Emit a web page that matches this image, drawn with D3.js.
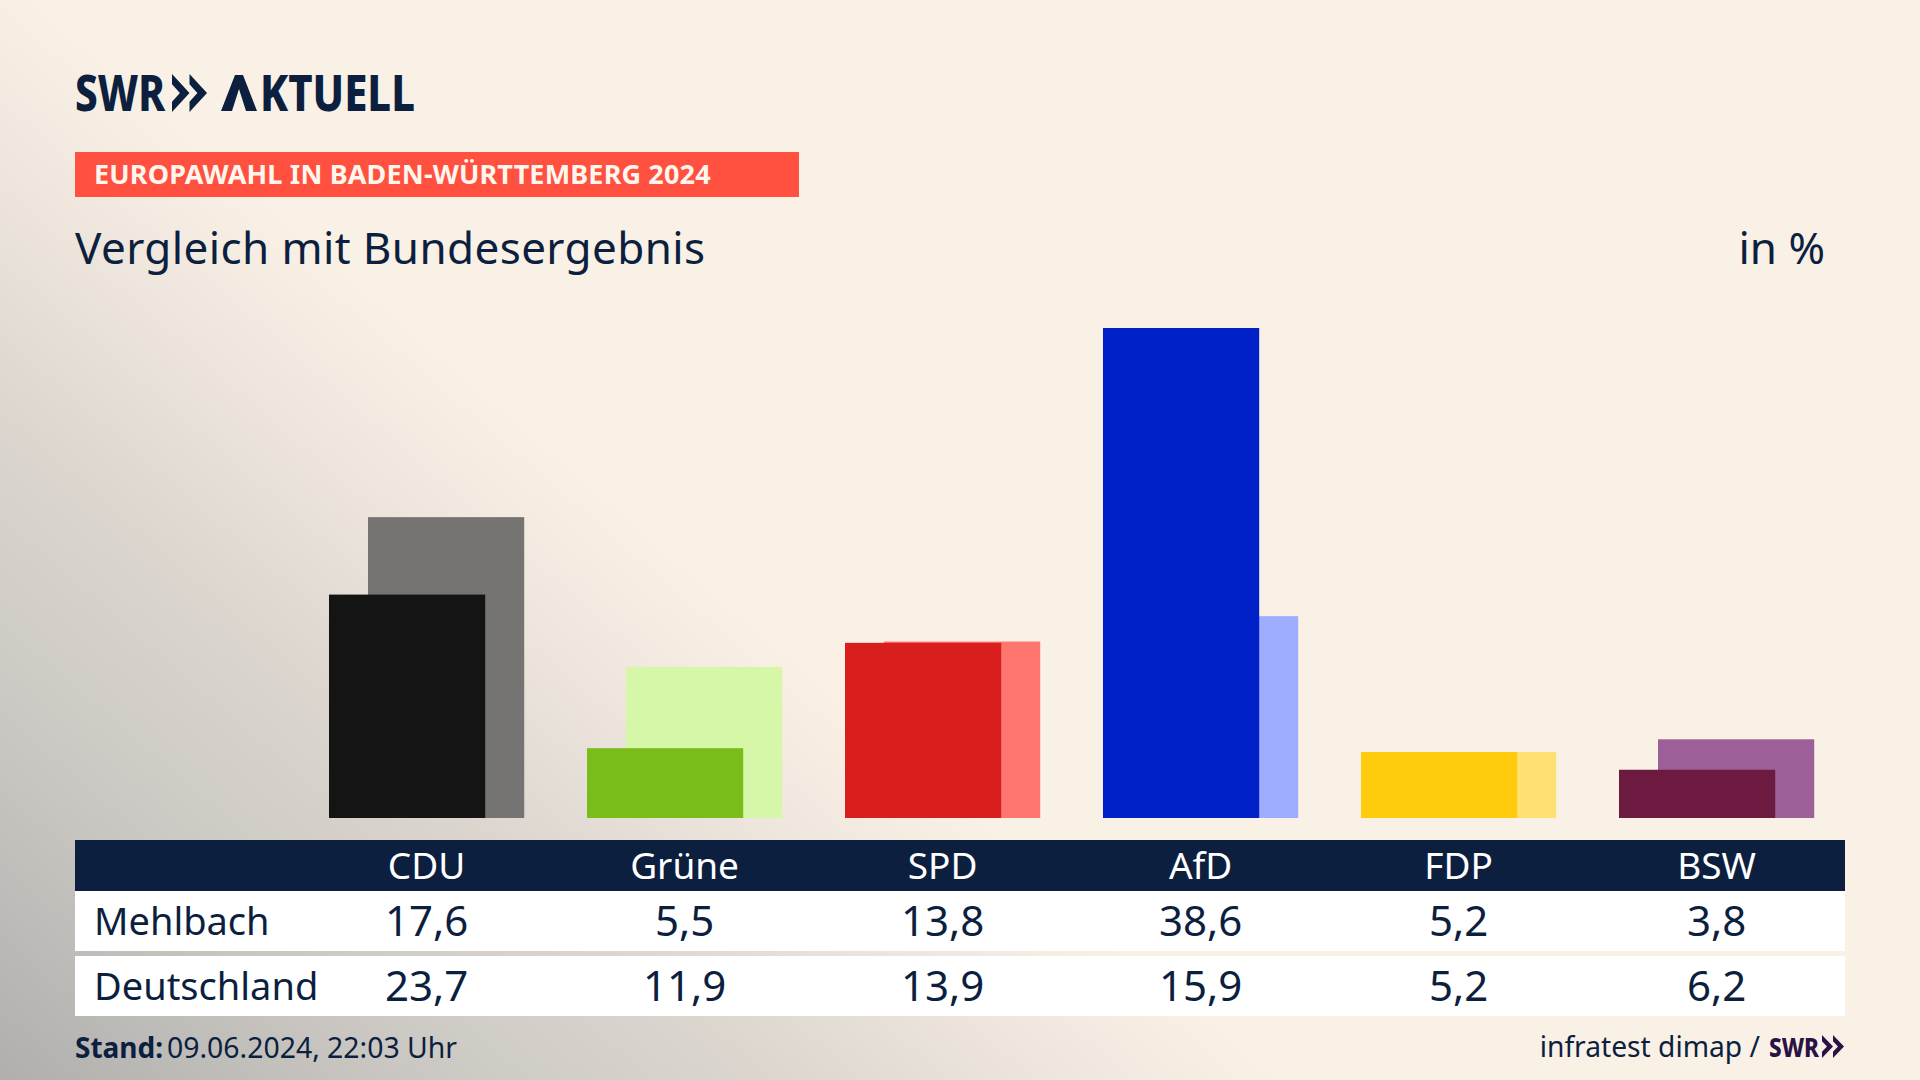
<!DOCTYPE html>
<html>
<head>
<meta charset="utf-8">
<script src="https://cdn.jsdelivr.net/npm/d3@7"></script>
<style>
  html, body { margin: 0; padding: 0; background: #faf1e6; }
  svg { display: block; }
  text { font-family: "Noto Sans", sans-serif; }
</style>
</head>
<body>
<div id="chart"></div>
<script>
const parties = ["CDU", "Grüne", "SPD", "AfD", "FDP", "BSW"];
const mehlbach = [17.6, 5.5, 13.8, 38.6, 5.2, 3.8];
const deutschland = [23.7, 11.9, 13.9, 15.9, 5.2, 6.2];
const strongColors = ["#141414", "#7abc1a", "#d81f1e", "#0020c8", "#ffcc0d", "#6c1a3f"];
const paleColors = ["#757472", "#d7f7a8", "#ff756f", "#9eadff", "#ffe070", "#9c5f97"];
const rowNames = ["Mehlbach", "Deutschland"];

const width = 1920, height = 1080;
const navy = "#0c1f3f";
const comma = d3.formatLocale({decimal: ",", thousands: ".", grouping: [3], currency: ["", ""]}).format(".1f");

const svg = d3.select("#chart").append("svg")
  .attr("width", width)
  .attr("height", height)
  .attr("viewBox", [0, 0, width, height]);

// background, cream fading to grey towards the lower left corner
const defs = svg.append("defs");
const glow = defs.append("linearGradient")
  .attr("id", "glow")
  .attr("gradientUnits", "userSpaceOnUse")
  .attr("x1", 0).attr("y1", 1080).attr("x2", 556).attr("y2", 437);
[[0, "#b0afad"], [0.3, "#c9c6c1"], [0.6, "#dcd6cf"], [0.8, "#ede5dc"], [1, "#faf1e6"]]
  .forEach(([o, c]) => glow.append("stop").attr("offset", o).attr("stop-color", c));
svg.append("rect").attr("width", width).attr("height", height).attr("fill", "url(#glow)");

// scales
const x = d3.scaleBand().domain(parties).range([297.6, 1845.6]).paddingInner(62.8 / 258).paddingOuter(62.8 / 516);
const y = d3.scaleLinear().domain([0, 38.6]).range([818, 328]);
const barWidth = 156.2;
const offset = x.bandwidth() - barWidth;

// bars, national result behind and shifted right
svg.append("g").selectAll("rect")
  .data(parties)
  .join("rect")
  .attr("x", d => x(d) + offset)
  .attr("y", (d, i) => y(deutschland[i]))
  .attr("width", barWidth)
  .attr("height", (d, i) => y(0) - y(deutschland[i]))
  .attr("fill", (d, i) => paleColors[i]);

svg.append("g").selectAll("rect")
  .data(parties)
  .join("rect")
  .attr("x", d => x(d))
  .attr("y", (d, i) => y(mehlbach[i]))
  .attr("width", barWidth)
  .attr("height", (d, i) => y(0) - y(mehlbach[i]))
  .attr("fill", (d, i) => strongColors[i]);

// logo
const chevrons = (px, py, w, h, color) => {
  const cw = w / 2;
  [0, cw].forEach(dx => {
    svg.append("path")
      .attr("d", d3.line()([
        [px + dx, py], [px + dx + cw, py + h / 2], [px + dx, py + h],
        [px + dx, py + h * 0.73], [px + dx + cw * 0.45, py + h / 2], [px + dx, py + h * 0.27]
      ]) + "Z")
      .attr("fill", color);
  });
};
svg.append("text").attr("x", 75).attr("y", 111).attr("font-size", 50).attr("font-weight", 800)
  .attr("fill", navy).attr("textLength", 90).attr("lengthAdjust", "spacingAndGlyphs").text("SWR");
chevrons(172, 74, 35, 38, navy);

// the logo's A has no crossbar, so the glyph stays as text and the shape goes on top
const word = svg.append("text").attr("y", 111).attr("font-size", 50).attr("font-weight", 800).attr("fill", navy);
word.append("tspan").attr("x", 221).attr("fill", "none").text("A");
word.append("tspan").attr("x", 260)
  .attr("textLength", 155).attr("lengthAdjust", "spacingAndGlyphs").text("KTUELL");
svg.append("path")
  .attr("d", d3.line()([[221, 111], [235, 75], [243, 75], [257, 111], [246, 111], [239, 89], [232, 111]]) + "Z")
  .attr("fill", navy);

// header band and title
svg.append("rect").attr("x", 75).attr("y", 152).attr("width", 724).attr("height", 45).attr("fill", "#ff5040");
svg.append("text").attr("x", 94).attr("y", 184).attr("font-size", 27).attr("font-weight", 700)
  .attr("letter-spacing", 0.15).attr("fill", "#fff7ee").text("EUROPAWAHL IN BADEN-WÜRTTEMBERG 2024");
svg.append("text").attr("x", 75).attr("y", 264).attr("font-size", 44).attr("letter-spacing", 0.4).attr("fill", navy)
  .text("Vergleich mit Bundesergebnis");
svg.append("text").attr("x", 1825).attr("y", 264).attr("font-size", 44).attr("fill", navy)
  .attr("text-anchor", "end").text("in %");

// table
svg.append("rect").attr("x", 75).attr("y", 840).attr("width", 1770).attr("height", 51).attr("fill", navy);
const rowTop = [891, 956];
const rowBase = [936, 1001];
svg.append("g").selectAll("rect")
  .data(rowNames)
  .join("rect")
  .attr("x", 75)
  .attr("y", (d, i) => rowTop[i])
  .attr("width", 1770)
  .attr("height", 60)
  .attr("fill", "#fff");

const center = d => x(d) + x.bandwidth() / 2;
svg.append("g").selectAll("text")
  .data(parties)
  .join("text")
  .attr("x", center)
  .attr("y", 879)
  .attr("text-anchor", "middle")
  .attr("font-size", 37)
  .attr("fill", "#fff")
  .text(d => d);

svg.append("g").selectAll("text")
  .data(rowNames)
  .join("text")
  .attr("x", 94)
  .attr("y", (d, i) => rowBase[i] - 1)
  .attr("font-size", 38)
  .attr("fill", navy)
  .text(d => d);

[mehlbach, deutschland].forEach((values, r) => {
  svg.append("g").selectAll("text")
    .data(parties)
    .join("text")
    .attr("x", center)
    .attr("y", rowBase[r])
    .attr("text-anchor", "middle")
    .attr("font-size", 42)
    .attr("fill", navy)
    .text((d, i) => comma(values[i]));
});

// footer
svg.append("text").attr("x", 75).attr("y", 1058).attr("font-size", 28).attr("font-weight", 700)
  .attr("fill", navy).text("Stand:");
svg.append("text").attr("x", 167).attr("y", 1058).attr("font-size", 28.4)
  .attr("fill", navy).text("09.06.2024, 22:03 Uhr");
svg.append("text").attr("x", 1760).attr("y", 1056.5).attr("font-size", 28.2).attr("text-anchor", "end")
  .attr("fill", navy).text("infratest dimap /");
svg.append("text").attr("x", 1769).attr("y", 1056.5).attr("font-size", 27).attr("font-weight", 800)
  .attr("fill", "#2a1245").attr("textLength", 50).attr("lengthAdjust", "spacingAndGlyphs").text("SWR");
chevrons(1822, 1035, 22, 23, "#2a1245");
</script>
</body>
</html>
